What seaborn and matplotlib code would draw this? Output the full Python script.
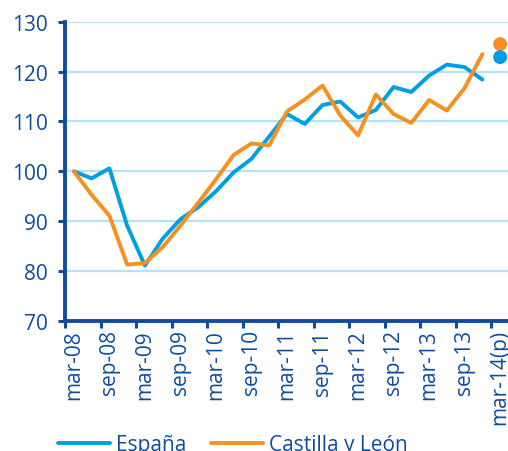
import pandas as pd
import matplotlib
matplotlib.use("Agg")
import matplotlib.pyplot as plt
import seaborn as sns
from matplotlib.lines import Line2D

# Quarterly index (mar-08 = 100)
quarters = ["mar-08", "jun-08", "sep-08", "dic-08", "mar-09", "jun-09", "sep-09", "dic-09",
            "mar-10", "jun-10", "sep-10", "dic-10", "mar-11", "jun-11", "sep-11", "dic-11",
            "mar-12", "jun-12", "sep-12", "dic-12", "mar-13", "jun-13", "sep-13", "dic-13",
            "mar-14(p)"]
espana = [100.0, 98.6, 100.6, 89.1, 81.1, 86.5, 90.4, 92.8, 96.0, 99.8, 102.5, 107.0,
          111.5, 109.5, 113.3, 114.0, 110.8, 112.3, 116.9, 115.9, 119.2, 121.4, 120.9, 118.4]
castilla = [100.0, 95.3, 91.1, 81.3, 81.6, 84.8, 89.1, 93.7, 98.4, 103.3, 105.6, 105.2,
            112.0, 114.4, 117.2, 111.2, 107.2, 115.4, 111.5, 109.7, 114.3, 112.2, 116.7, 123.5]
forecast_espana = 122.9
forecast_castilla = 125.5
tick_labels = quarters[::2]

c_esp = "#009FE3"
c_cyl = "#F7901E"
c_axis = "#0F4C9E"
c_grid = "#B5E2F6"

sns.set_theme(style="white")
plt.rcParams["font.family"] = ["Open Sans", "DejaVu Sans"]

n_hist = len(espana)
df = pd.DataFrame({
    "q": list(range(n_hist)) * 2,
    "valor": espana + castilla,
    "serie": ["España"] * n_hist + ["Castilla y León"] * n_hist,
})
df_p = pd.DataFrame({
    "q": [len(quarters) - 1] * 2,
    "valor": [forecast_castilla, forecast_espana],
    "serie": ["Castilla y León", "España"],
})
palette = {"España": c_esp, "Castilla y León": c_cyl}

fig = plt.figure(figsize=(5.08, 4.52), dpi=100)
ax = fig.add_axes([65 / 508, 130 / 452, 444 / 508, 299.3 / 452])

for y in range(80, 131, 10):
    ax.axhline(y, color=c_grid, lw=1.6, zorder=0)

sns.lineplot(data=df, x="q", y="valor", hue="serie", palette=palette,
             linewidth=2.8, legend=False, ax=ax, zorder=3)
sns.scatterplot(data=df_p, x="q", y="valor", hue="serie", palette=palette,
                s=100, edgecolor="none", legend=False, ax=ax, zorder=4, clip_on=False)

ax.set_xlim(-0.5, len(quarters) - 0.5)
ax.set_ylim(70, 130)
ax.set_yticks(range(70, 131, 10))
ax.set_xlabel("")
ax.set_ylabel("")

# ticks at category boundaries, labels at category centres
ax.set_xticks([i - 0.5 for i in range(0, len(quarters), 2)])
ax.set_xticklabels([])
ax.set_xticks(list(range(0, len(quarters), 2)), minor=True)
ax.set_xticklabels(tick_labels, minor=True, rotation=90)
ax.tick_params(axis="x", which="major", direction="out", length=5, width=2.2,
               color=c_axis, bottom=True)
ax.tick_params(axis="x", which="minor", length=0, pad=6, labelsize=15,
               labelcolor=c_axis, bottom=True)
ax.tick_params(axis="y", direction="out", length=5, width=2.2, color=c_axis,
               pad=7.5, labelsize=15, labelcolor=c_axis, left=True)

for s in ["top", "right"]:
    ax.spines[s].set_visible(False)
for s in ["left", "bottom"]:
    ax.spines[s].set_color(c_axis)
    ax.spines[s].set_linewidth(2.8)

handles = [Line2D([0], [0], color=c_esp, lw=2.8), Line2D([0], [0], color=c_cyl, lw=2.8)]
fig.legend(handles, ["España", "Castilla y León"], loc="center left",
           bbox_to_anchor=(58 / 508, 1 - 446 / 452), ncol=2, frameon=False,
           fontsize=15, labelcolor=c_axis, handlelength=2.5, handletextpad=0.3,
           columnspacing=1.15, borderpad=0, borderaxespad=0)

fig.savefig("out.png", dpi=100)
